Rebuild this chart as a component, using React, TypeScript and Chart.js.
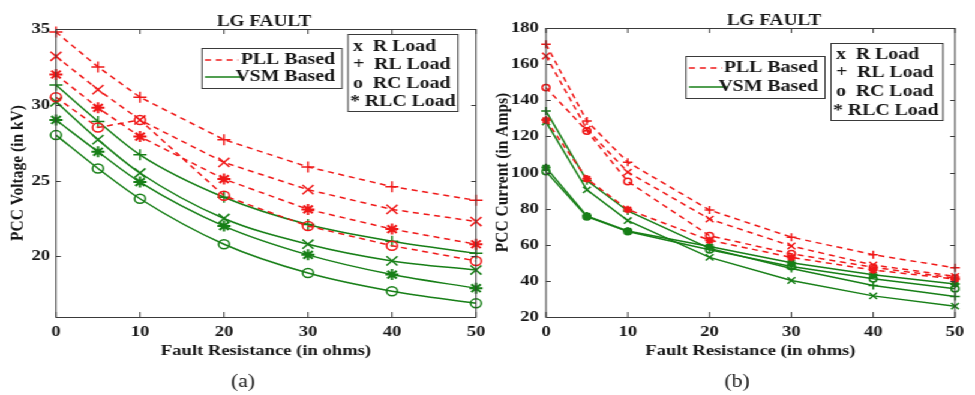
import { useEffect, useRef } from "react";
import { Chart, registerables } from "chart.js";

Chart.register(...registerables);

// Fault resistance steps (ohms) and axis ticks
const faultResistance = [0, 5, 10, 20, 30, 40, 50];
const resistanceTicks = [0, 10, 20, 30, 40, 50];
const voltageTicks = [20, 25, 30, 35];
const currentTicks = [20, 40, 60, 80, 100, 120, 140, 160, 180];

// PCC voltage (kV) for each load type
const pllVoltageR = [33.2, 31.0, 29.0, 26.2, 24.4, 23.1, 22.3];
const pllVoltageRL = [34.8, 32.5, 30.5, 27.7, 25.9, 24.6, 23.7];
const pllVoltageRC = [30.5, 28.5, 29.0, 24.0, 22.0, 20.7, 19.7];
const pllVoltageRLC = [32.0, 29.8, 27.9, 25.1, 23.1, 21.8, 20.8];
const vsmVoltageR = [30.2, 27.7, 25.5, 22.5, 20.8, 19.7, 19.1];
const vsmVoltageRL = [31.3, 28.9, 26.7, 23.9, 22.1, 21.0, 20.2];
const vsmVoltageRC = [28.0, 25.8, 23.8, 20.8, 18.9, 17.7, 16.9];
const vsmVoltageRLC = [29.0, 26.9, 24.9, 22.0, 20.1, 18.8, 17.9];

// PCC current (A) for each load type
const pllCurrentR = [164.5, 124.0, 100.2, 74.2, 59.3, 48.8, 42.5];
const pllCurrentRL = [171.0, 128.5, 105.7, 79.2, 64.2, 54.5, 47.2];
const pllCurrentRC = [147.0, 123.0, 95.0, 65.0, 55.0, 47.5, 41.5];
const pllCurrentRLC = [129.0, 96.5, 79.5, 62.5, 53.0, 46.0, 41.0];
const vsmCurrentR = [128.0, 90.4, 73.4, 53.0, 40.2, 31.7, 26.0];
const vsmCurrentRL = [134.0, 95.5, 78.7, 58.0, 46.8, 37.5, 31.4];
const vsmCurrentRC = [100.5, 75.5, 67.3, 57.2, 48.0, 41.2, 35.7];
const vsmCurrentRLC = [102.7, 76.0, 67.6, 59.0, 50.0, 43.4, 38.3];

const schemeLabels = ["PLL Based", "VSM Based"];
const loadLabels = ["x  R Load", "+  RL Load", "o  RC Load", "* RLC Load"];

const RED = "#f01818";
const GREEN = "#177f17";
const AXIS = "#3a3a3a";
const INK = "#161616";
const SERIF = '"Liberation Serif", "Times New Roman", serif';

// the figure is laid out in a horizontally compressed space and widened by CSS
const S = 1.2;
const FIG_W = 975;
const FIG_H = 395;
const LEFT_W = 408;
const RIGHT_W = 404;
const RIGHT_OFFSET = LEFT_W * S;

type Load = "R" | "RL" | "RC" | "RLC";
const markerStyle: Record<Load, string> = { R: "crossRot", RL: "cross", RC: "circle", RLC: "star" };

function series(
  values: number[],
  load: Load,
  pll: boolean,
  sizes: Record<Load, number>,
  smooth: boolean
) {
  const color = pll ? RED : GREEN;
  return {
    label: `${pll ? "PLL" : "VSM"} ${load}`,
    data: faultResistance.map((x, i) => ({ x, y: values[i] })),
    borderColor: color,
    backgroundColor: color,
    borderWidth: 1.5,
    borderDash: pll ? [5, 4] : [],
    pointStyle: markerStyle[load],
    pointRadius: sizes[load],
    pointBorderWidth: load === "RLC" ? 2 : 1.5,
    pointBorderColor: color,
    pointBackgroundColor: "rgba(0,0,0,0)",
    cubicInterpolationMode: smooth ? "monotone" : "default",
    clip: false,
  };
}

const framePlugin = {
  id: "matlabFrame",
  afterDraw(chart: any, _args: any, o: any) {
    const { ctx, chartArea: a } = chart;
    const xs = chart.scales.x;
    const ys = chart.scales.y;
    const tx = (X: number) => (X - o.offset) / S;
    ctx.save();

    // axes box with inward ticks on all sides
    ctx.strokeStyle = AXIS;
    ctx.lineWidth = 1;
    ctx.strokeRect(a.left, a.top + 0.5, a.right - a.left, a.bottom - a.top);
    ctx.beginPath();
    for (const v of o.xTicks) {
      const p = xs.getPixelForValue(v);
      ctx.moveTo(p, a.bottom);
      ctx.lineTo(p, a.bottom - 5);
      ctx.moveTo(p, a.top);
      ctx.lineTo(p, a.top + 5);
    }
    for (const v of o.yTicks) {
      const p = Math.round(ys.getPixelForValue(v)) + 0.5;
      ctx.moveTo(a.left, p);
      ctx.lineTo(a.left + 4, p);
      ctx.moveTo(a.right, p);
      ctx.lineTo(a.right - 4, p);
    }
    ctx.stroke();

    // title and caption
    ctx.fillStyle = INK;
    ctx.textAlign = "center";
    ctx.textBaseline = "middle";
    ctx.font = `bold 16px ${SERIF}`;
    ctx.fillText(o.title, tx(o.titleX), o.titleY);
    ctx.font = `18px ${SERIF}`;
    ctx.fillText(o.caption, tx(o.captionX), o.captionY);

    // scheme legend
    const sb = o.schemeBox;
    const sx0 = tx(sb.x0);
    const sx1 = tx(sb.x1);
    ctx.fillStyle = "#ffffff";
    ctx.fillRect(sx0, sb.y0, sx1 - sx0, sb.y1 - sb.y0);
    ctx.strokeStyle = AXIS;
    ctx.lineWidth = 1;
    ctx.strokeRect(sx0, sb.y0 + 0.5, sx1 - sx0, sb.y1 - sb.y0);
    ctx.font = `bold 16.5px ${SERIF}`;
    ctx.textAlign = "right";
    schemeLabels.forEach((label, i) => {
      const y = sb.y0 + sb.rows[i];
      ctx.beginPath();
      ctx.strokeStyle = i === 0 ? RED : GREEN;
      ctx.lineWidth = 1.5;
      ctx.setLineDash(i === 0 ? [5, 4] : []);
      ctx.moveTo(sx0 + 3 / S, y);
      ctx.lineTo(sx0 + (i === 0 ? 36 : 41) / S, y);
      ctx.stroke();
      ctx.setLineDash([]);
      ctx.fillStyle = INK;
      ctx.fillText(label, sx1 - 7 / S, y);
    });

    // load-type legend
    const lb = o.loadBox;
    const lx0 = tx(lb.x0);
    const lx1 = tx(lb.x1);
    ctx.fillStyle = "#ffffff";
    ctx.fillRect(lx0, lb.y0, lx1 - lx0, lb.y1 - lb.y0);
    ctx.strokeStyle = AXIS;
    ctx.lineWidth = 1;
    ctx.strokeRect(lx0, lb.y0 + 0.5, lx1 - lx0, lb.y1 - lb.y0);
    ctx.textAlign = "left";
    ctx.fillStyle = INK;
    loadLabels.forEach((label, i) => {
      const y = lb.y0 + lb.rows[i];
      ctx.fillText(label, lx0 + (i === 3 ? 2 : 5) / S, y);
    });

    ctx.restore();
  },
};

function panelConfig(p: any) {
  const tickFont = { family: SERIF, size: 15.5, weight: "bold" as const };
  const titleFont = { family: SERIF, size: 15.5, weight: "bold" as const };
  const yWidth = (p.areaLeft - p.offset) / S;
  const padRight = p.width - (p.areaRight - p.offset) / S;
  return {
    type: "line" as const,
    data: { datasets: p.datasets },
    plugins: [framePlugin],
    options: {
      animation: false as const,
      responsive: false,
      events: [],
      layout: {
        padding: { left: 0, right: padRight, top: p.areaTop, bottom: FIG_H - 360 },
      },
      plugins: {
        legend: { display: false },
        title: { display: false },
        tooltip: { enabled: false },
        matlabFrame: {
          offset: p.offset,
          xTicks: resistanceTicks,
          yTicks: p.yTicks,
          title: "LG FAULT",
          titleX: p.titleX,
          titleY: p.titleY,
          caption: p.caption,
          captionX: p.captionX,
          captionY: 382,
          schemeBox: p.schemeBox,
          loadBox: p.loadBox,
        },
      },
      scales: {
        x: {
          type: "linear" as const,
          min: 0,
          max: 50,
          grid: { display: false, drawTicks: false },
          border: { display: false },
          ticks: { font: tickFont, color: INK, padding: 6, autoSkip: false, maxRotation: 0 },
          title: {
            display: true,
            text: "Fault Resistance (in ohms)",
            font: titleFont,
            color: INK,
            padding: 0,
          },
          afterBuildTicks: (s: any) => {
            s.ticks = resistanceTicks.map((value) => ({ value }));
          },
          afterFit: (s: any) => {
            s.height = 360 - p.areaBottom;
            s.paddingLeft = 0;
            s.paddingRight = 0;
          },
        },
        y: {
          type: "linear" as const,
          min: p.yMin,
          max: p.yMax,
          grid: { display: false, drawTicks: false },
          border: { display: false },
          ticks: { font: tickFont, color: INK, padding: p.yTickPad },
          title: {
            display: true,
            text: p.yTitle,
            font: titleFont,
            color: INK,
            padding: { top: p.yTitlePad, bottom: 0 },
          },
          afterBuildTicks: (s: any) => {
            s.ticks = p.yTicks.map((value: number) => ({ value }));
          },
          afterFit: (s: any) => {
            s.width = yWidth;
            s.paddingTop = 0;
            s.paddingBottom = 0;
          },
        },
      },
    },
  };
}

const voltageSizes: Record<Load, number> = { R: 6.5, RL: 5.5, RC: 4.5, RLC: 5.5 };
const currentSizes: Record<Load, number> = { R: 4.5, RL: 4, RC: 3.2, RLC: 3.8 };

function voltagePanel() {
  return panelConfig({
    offset: 0,
    width: LEFT_W,
    areaLeft: 56,
    areaRight: 476,
    areaTop: 29,
    areaBottom: 317,
    yMin: 16,
    yMax: 35,
    yTicks: voltageTicks,
    yTickPad: 5,
    yTitle: "PCC Voltage (in kV)",
    yTitlePad: 6,
    titleX: 264,
    titleY: 22,
    caption: "(a)",
    captionX: 243,
    schemeBox: { x0: 202, x1: 342, y0: 48, y1: 88, rows: [12, 29] },
    loadBox: { x0: 348, x1: 458, y0: 34, y1: 111, rows: [13, 31, 50, 68] },
    datasets: [
      series(pllVoltageRL, "RL", true, voltageSizes, false),
      series(pllVoltageR, "R", true, voltageSizes, false),
      series(pllVoltageRLC, "RLC", true, voltageSizes, false),
      series(pllVoltageRC, "RC", true, voltageSizes, false),
      series(vsmVoltageRL, "RL", false, voltageSizes, true),
      series(vsmVoltageR, "R", false, voltageSizes, true),
      series(vsmVoltageRLC, "RLC", false, voltageSizes, true),
      series(vsmVoltageRC, "RC", false, voltageSizes, true),
    ],
  });
}

function currentPanel() {
  return panelConfig({
    offset: RIGHT_OFFSET,
    width: RIGHT_W,
    areaLeft: 546,
    areaRight: 955,
    areaTop: 28,
    areaBottom: 317,
    yMin: 20,
    yMax: 180,
    yTicks: currentTicks,
    yTickPad: 6,
    yTitle: "PCC Current (in Amps)",
    yTitlePad: 1.5,
    titleX: 774,
    titleY: 21,
    caption: "(b)",
    captionX: 737,
    schemeBox: { x0: 686, x1: 825, y0: 56, y1: 98, rows: [12, 31] },
    loadBox: { x0: 831, x1: 943, y0: 43, y1: 120, rows: [12, 30, 49, 68] },
    datasets: [
      series(pllCurrentRL, "RL", true, currentSizes, false),
      series(pllCurrentR, "R", true, currentSizes, false),
      series(pllCurrentRC, "RC", true, currentSizes, false),
      series(pllCurrentRLC, "RLC", true, currentSizes, false),
      series(vsmCurrentRL, "RL", false, currentSizes, false),
      series(vsmCurrentR, "R", false, currentSizes, false),
      series(vsmCurrentRLC, "RLC", false, currentSizes, false),
      series(vsmCurrentRC, "RC", false, currentSizes, false),
    ],
  });
}

export default function App() {
  const leftRef = useRef<HTMLCanvasElement>(null);
  const rightRef = useRef<HTMLCanvasElement>(null);

  useEffect(() => {
    document.body.style.margin = "0";
    const charts: Chart[] = [];
    if (leftRef.current) charts.push(new Chart(leftRef.current, voltagePanel() as any));
    if (rightRef.current) charts.push(new Chart(rightRef.current, currentPanel() as any));
    return () => charts.forEach((c) => c.destroy());
  }, []);

  return (
    <div
      style={{
        position: "relative",
        width: FIG_W,
        height: FIG_H,
        overflow: "hidden",
        background: "#ffffff",
      }}
    >
      <div
        style={{
          position: "absolute",
          left: 0,
          top: 0,
          width: LEFT_W + RIGHT_W,
          height: FIG_H,
          transform: `scaleX(${S})`,
          transformOrigin: "0 0",
        }}
      >
        <canvas
          ref={leftRef}
          width={LEFT_W}
          height={FIG_H}
          style={{ position: "absolute", left: 0, top: 0, width: LEFT_W, height: FIG_H }}
        />
        <canvas
          ref={rightRef}
          width={RIGHT_W}
          height={FIG_H}
          style={{ position: "absolute", left: LEFT_W, top: 0, width: RIGHT_W, height: FIG_H }}
        />
      </div>
    </div>
  );
}
